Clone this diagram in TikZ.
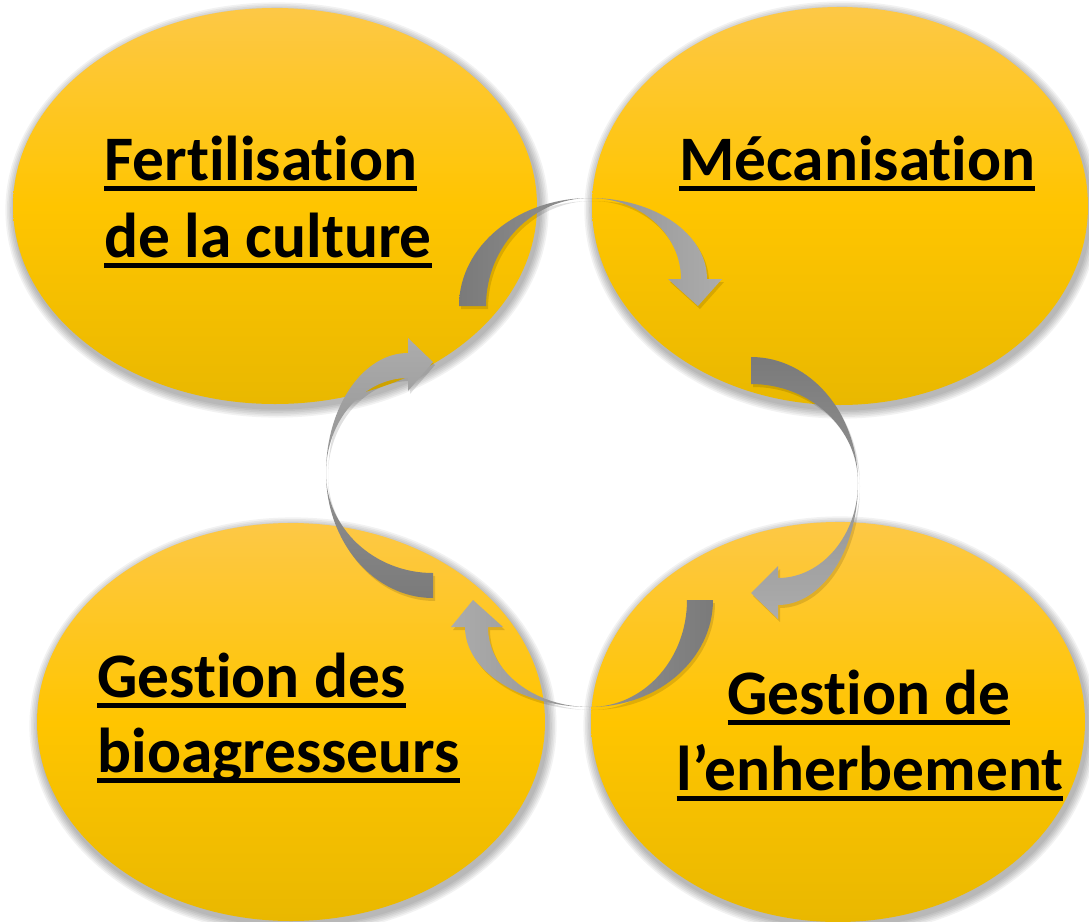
\documentclass[tikz,border=0pt]{standalone}
\usepackage{fontspec}
\setmainfont{Carlito}[Ligatures=NoCommon]
\usepackage{tikz}
\usetikzlibrary{shapes.geometric,calc,backgrounds}

\definecolor{ytop}{RGB}{253,200,70}
\definecolor{ymid}{RGB}{255,197,0}
\definecolor{ybot}{RGB}{233,184,0}
\definecolor{gdark}{RGB}{122,122,122}
\definecolor{glight}{RGB}{172,172,172}

\newcommand{\ulbox}[1]{\setbox0=\hbox{#1}\rlap{\rule[-5.5pt]{\wd0}{2.5pt}}\box0}

% outlines of the curved arrows (layout pixels, y down)
\def\arrowtop{(459,306) .. controls (459,246) and (518,198) .. (590,198)
  .. controls (655,198) and (707,234) .. (707,279) -- (722,279) -- (698,306) -- (668,279) -- (681,279)
  .. controls (681,234) and (640,198) .. (590,198) .. controls (533,198) and (486,246) .. (486,306) -- cycle}
\def\arrowright{(751,357) .. controls (810,357) and (858,413) .. (858,483)
  .. controls (858,550) and (822,605) .. (778,605) -- (778,619) -- (751,593) -- (778,566) -- (778,578)
  .. controls (822,578) and (858,535) .. (858,483) .. controls (858,428) and (810,384) .. (751,384) -- cycle}
\def\arrowbottom{(713,600) .. controls (713,659) and (658,707) .. (590,707)
  .. controls (521,707) and (465,671) .. (465,627) -- (451,627) -- (473,600) -- (503,627) -- (488,627)
  .. controls (488,671) and (534,707) .. (590,707) .. controls (644,707) and (687,659) .. (687,600) -- cycle}
\def\arrowleft{(433,598) .. controls (374,598) and (326,542) .. (326,473)
  .. controls (326,407) and (363,353) .. (408,353) -- (408,338) -- (433,362) -- (408,391) -- (408,378)
  .. controls (363,378) and (326,421) .. (326,473) .. controls (326,528) and (374,573) .. (433,573) -- cycle}

\begin{document}
\begin{tikzpicture}[x=0.5pt,y=-0.5pt,
  blob/.style={ellipse,inner sep=0pt,top color=ytop,bottom color=ybot,middle color=ymid},
  lbl/.style={inner sep=0pt,font=\fontsize{31.7}{38}\selectfont\bfseries},
  arrshadow/.style={black,opacity=.12}]
\useasboundingbox (0,0) rectangle (1089,922);

\node[blob,minimum width=262pt,minimum height=198pt] (fert) at (275,206) {};
\node[blob,minimum width=248pt,minimum height=199pt] (meca) at (840,206) {};
\node[blob,minimum width=254pt,minimum height=199pt] (bio) at (291,722) {};
\node[blob,minimum width=247pt,minimum height=200pt] (enh) at (838,722) {};

\begin{pgfonlayer}{background}
\fill[white] (0,0) rectangle (1089,922);
\foreach \n/\rx/\ry in {fert/131/99,meca/124/99.5,bio/127/99.5,enh/123.5/100}
  \foreach \k in {1,...,6}
    \fill[black,opacity=.05] ($(\n.center)+(2,4)$) ellipse [x radius=\rx pt+\k*0.8pt, y radius=\ry pt+\k*0.8pt];
\end{pgfonlayer}

\node[lbl,anchor=base west] (fert-a) at (104,180) {\ulbox{Fertilisation}};
\node[lbl,anchor=base west] (fert-b) at (104,257) {\ulbox{de la culture}};
\node[lbl,anchor=base west] (meca-a) at (679,180) {\ulbox{Mécanisation}};
\node[lbl,anchor=base west] (bio-a) at (97,697) {\ulbox{Gestion des}};
\node[lbl,anchor=base west] (bio-b) at (97,772) {\ulbox{bioagresseurs}};
\node[lbl,anchor=base] (enh-a) at (869,714) {\ulbox{Gestion de}};
\node[lbl,anchor=base] (enh-b) at (870,790) {\ulbox{l’enherbement}};

% arrows, shadow first
\fill[arrshadow] [shift={(2,3)}] \arrowtop;
\fill[arrshadow] [shift={(2,3)}] \arrowright;
\fill[arrshadow] [shift={(2,3)}] \arrowbottom;
\fill[arrshadow] [shift={(2,3)}] \arrowleft;
\shade[left color=gdark,right color=glight] \arrowtop;
\shade[top color=gdark,bottom color=glight] \arrowright;
\shade[left color=glight,right color=gdark] \arrowbottom;
\shade[top color=glight,bottom color=gdark] \arrowleft;
\end{tikzpicture}
\end{document}
